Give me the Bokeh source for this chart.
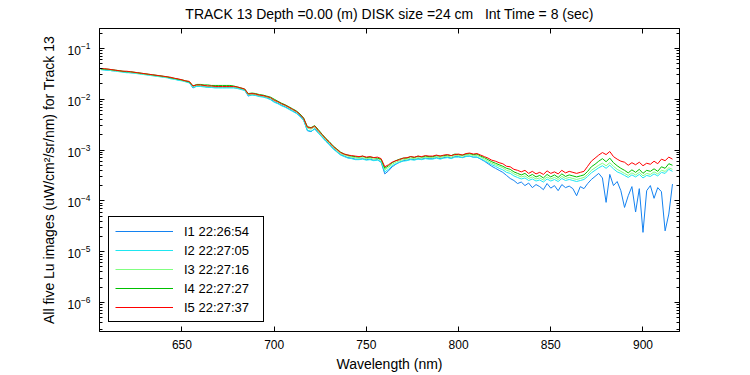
from bokeh.plotting import figure
from bokeh.models import (Range1d, LinearAxis, LogAxis, Legend, LegendItem,
                          FixedTicker, LogTicker, LogTickFormatter, CustomJSTickFormatter)
from bokeh.embed import file_html
from bokeh.resources import INLINE

# ---------------- data (log10 of Lu) ----------------
wavelength_nm = list(range(606, 918, 2))

series_labels = ["I1 22:26:54", "I2 22:27:05", "I3 22:27:16", "I4 22:27:27", "I5 22:27:37"]
series_colors = ["#1482F0", "#1EE6F0", "#80FF80", "#00C000", "#FF0000"]

i1_log10 = [
    -1.41, -1.42, -1.43, -1.44, -1.44, -1.45, -1.46, -1.47, -1.48, -1.48,
    -1.49, -1.50, -1.51, -1.52, -1.53, -1.54, -1.55, -1.56, -1.57, -1.59,
    -1.60, -1.62, -1.63, -1.65, -1.67, -1.78, -1.74, -1.74, -1.75, -1.76,
    -1.76, -1.77, -1.77, -1.77, -1.77, -1.77, -1.77, -1.78, -1.80, -1.82,
    -1.94, -1.91, -1.92, -1.94, -1.95, -1.97, -2.00, -2.05, -2.08, -2.12,
    -2.15, -2.19, -2.23, -2.27, -2.33, -2.41, -2.62, -2.64, -2.58, -2.66,
    -2.74, -2.82, -2.89, -2.97, -3.03, -3.09, -3.12, -3.15, -3.16, -3.18,
    -3.18, -3.17, -3.19, -3.18, -3.20, -3.19, -3.24, -3.47, -3.41, -3.33,
    -3.28, -3.24, -3.21, -3.20, -3.18, -3.19, -3.17, -3.18, -3.16, -3.17,
    -3.17, -3.15, -3.17, -3.15, -3.14, -3.16, -3.13, -3.13, -3.15, -3.12,
    -3.12, -3.14, -3.14, -3.18, -3.22, -3.27, -3.32, -3.36, -3.40, -3.44,
    -3.50, -3.56, -3.60, -3.66, -3.63, -3.70, -3.65, -3.74, -3.68, -3.72,
    -3.78, -3.66, -3.75, -3.70, -3.80, -3.68, -3.74, -3.71, -3.76, -3.90,
    -3.72, -3.76, -3.66, -3.58, -3.52, -3.46, -3.55, -4.03, -3.48, -3.70,
    -3.62, -3.80, -4.13, -3.90, -3.72, -4.22, -3.76, -4.62, -3.80, -3.70,
    -3.95, -3.74, -3.82, -4.59, -4.26, -3.67,
]
i2_log10 = [
    -1.42, -1.43, -1.43, -1.44, -1.45, -1.46, -1.47, -1.48, -1.48, -1.49,
    -1.50, -1.51, -1.52, -1.53, -1.54, -1.55, -1.56, -1.57, -1.58, -1.60,
    -1.61, -1.63, -1.64, -1.66, -1.68, -1.77, -1.75, -1.75, -1.76, -1.77,
    -1.77, -1.78, -1.78, -1.78, -1.78, -1.78, -1.78, -1.79, -1.81, -1.83,
    -1.93, -1.92, -1.93, -1.95, -1.96, -1.98, -2.01, -2.06, -2.09, -2.13,
    -2.16, -2.20, -2.24, -2.28, -2.34, -2.42, -2.61, -2.63, -2.59, -2.67,
    -2.75, -2.83, -2.90, -2.98, -3.04, -3.10, -3.13, -3.16, -3.17, -3.19,
    -3.19, -3.18, -3.20, -3.19, -3.21, -3.20, -3.23, -3.43, -3.38, -3.31,
    -3.27, -3.24, -3.22, -3.21, -3.19, -3.20, -3.18, -3.19, -3.17, -3.18,
    -3.18, -3.16, -3.18, -3.16, -3.15, -3.17, -3.14, -3.14, -3.15, -3.13,
    -3.12, -3.14, -3.14, -3.17, -3.21, -3.25, -3.29, -3.32, -3.36, -3.39,
    -3.44, -3.46, -3.51, -3.54, -3.57, -3.55, -3.60, -3.57, -3.61, -3.59,
    -3.63, -3.57, -3.61, -3.58, -3.62, -3.56, -3.60, -3.58, -3.60, -3.62,
    -3.60, -3.58, -3.52, -3.45, -3.40, -3.35, -3.31, -3.36, -3.30, -3.37,
    -3.43, -3.46, -3.50, -3.54, -3.49, -3.53, -3.48, -3.55, -3.50, -3.52,
    -3.47, -3.51, -3.44, -3.46, -3.38, -3.42,
]
i3_log10 = [
    -1.41, -1.41, -1.42, -1.43, -1.44, -1.45, -1.46, -1.46, -1.47, -1.48,
    -1.49, -1.50, -1.51, -1.52, -1.53, -1.54, -1.55, -1.56, -1.57, -1.58,
    -1.60, -1.61, -1.63, -1.65, -1.66, -1.75, -1.73, -1.73, -1.74, -1.75,
    -1.75, -1.76, -1.76, -1.76, -1.76, -1.76, -1.76, -1.77, -1.79, -1.81,
    -1.91, -1.90, -1.91, -1.93, -1.94, -1.96, -1.98, -2.03, -2.06, -2.10,
    -2.13, -2.17, -2.21, -2.25, -2.31, -2.39, -2.57, -2.59, -2.55, -2.64,
    -2.72, -2.80, -2.87, -2.95, -3.01, -3.07, -3.10, -3.12, -3.14, -3.15,
    -3.16, -3.15, -3.17, -3.16, -3.18, -3.17, -3.20, -3.39, -3.34, -3.28,
    -3.24, -3.21, -3.19, -3.18, -3.16, -3.17, -3.15, -3.16, -3.14, -3.15,
    -3.15, -3.13, -3.15, -3.13, -3.12, -3.14, -3.11, -3.11, -3.12, -3.10,
    -3.09, -3.11, -3.11, -3.14, -3.18, -3.22, -3.26, -3.29, -3.32, -3.35,
    -3.40, -3.42, -3.47, -3.50, -3.53, -3.51, -3.56, -3.53, -3.57, -3.55,
    -3.59, -3.53, -3.57, -3.54, -3.58, -3.52, -3.56, -3.54, -3.56, -3.58,
    -3.56, -3.54, -3.48, -3.40, -3.35, -3.30, -3.26, -3.31, -3.25, -3.32,
    -3.38, -3.42, -3.46, -3.50, -3.45, -3.49, -3.44, -3.51, -3.46, -3.48,
    -3.43, -3.47, -3.40, -3.42, -3.35, -3.38,
]
i4_log10 = [
    -1.40, -1.41, -1.41, -1.42, -1.43, -1.44, -1.45, -1.46, -1.46, -1.47,
    -1.48, -1.49, -1.50, -1.51, -1.52, -1.53, -1.54, -1.55, -1.56, -1.58,
    -1.59, -1.61, -1.62, -1.64, -1.66, -1.74, -1.71, -1.71, -1.72, -1.72,
    -1.73, -1.73, -1.73, -1.73, -1.73, -1.73, -1.74, -1.76, -1.78, -1.80,
    -1.89, -1.88, -1.89, -1.91, -1.92, -1.94, -1.96, -2.00, -2.04, -2.08,
    -2.11, -2.15, -2.19, -2.23, -2.29, -2.37, -2.54, -2.56, -2.52, -2.60,
    -2.69, -2.77, -2.84, -2.92, -2.98, -3.04, -3.08, -3.10, -3.12, -3.13,
    -3.14, -3.12, -3.15, -3.14, -3.15, -3.16, -3.18, -3.36, -3.31, -3.25,
    -3.21, -3.18, -3.16, -3.16, -3.13, -3.15, -3.12, -3.14, -3.12, -3.13,
    -3.13, -3.11, -3.12, -3.11, -3.10, -3.11, -3.08, -3.09, -3.10, -3.08,
    -3.07, -3.09, -3.08, -3.12, -3.15, -3.19, -3.23, -3.26, -3.29, -3.32,
    -3.36, -3.38, -3.43, -3.46, -3.49, -3.46, -3.52, -3.48, -3.53, -3.50,
    -3.55, -3.48, -3.53, -3.49, -3.54, -3.47, -3.52, -3.49, -3.51, -3.53,
    -3.51, -3.49, -3.42, -3.33, -3.28, -3.22, -3.17, -3.23, -3.16, -3.25,
    -3.31, -3.36, -3.40, -3.45, -3.39, -3.44, -3.38, -3.46, -3.40, -3.42,
    -3.37, -3.42, -3.33, -3.36, -3.27, -3.30,
]
i5_log10 = [
    -1.40, -1.40, -1.41, -1.42, -1.43, -1.44, -1.45, -1.45, -1.46, -1.47,
    -1.48, -1.49, -1.50, -1.51, -1.52, -1.53, -1.54, -1.55, -1.56, -1.57,
    -1.59, -1.60, -1.62, -1.64, -1.65, -1.74, -1.72, -1.72, -1.73, -1.74,
    -1.74, -1.75, -1.75, -1.75, -1.75, -1.75, -1.75, -1.76, -1.78, -1.80,
    -1.90, -1.89, -1.90, -1.92, -1.93, -1.95, -1.97, -2.02, -2.05, -2.09,
    -2.12, -2.16, -2.20, -2.24, -2.30, -2.38, -2.55, -2.57, -2.53, -2.62,
    -2.70, -2.78, -2.85, -2.93, -2.99, -3.05, -3.08, -3.10, -3.11, -3.12,
    -3.13, -3.12, -3.14, -3.13, -3.15, -3.14, -3.17, -3.33, -3.29, -3.24,
    -3.21, -3.19, -3.16, -3.15, -3.13, -3.14, -3.12, -3.13, -3.11, -3.12,
    -3.12, -3.10, -3.12, -3.10, -3.09, -3.11, -3.09, -3.08, -3.10, -3.07,
    -3.06, -3.08, -3.07, -3.10, -3.13, -3.16, -3.20, -3.22, -3.25, -3.27,
    -3.32, -3.33, -3.38, -3.40, -3.43, -3.40, -3.46, -3.42, -3.47, -3.44,
    -3.48, -3.41, -3.46, -3.43, -3.47, -3.40, -3.45, -3.42, -3.44, -3.46,
    -3.44, -3.42, -3.32, -3.22, -3.16, -3.10, -3.05, -3.09, -3.03, -3.13,
    -3.18, -3.22, -3.24, -3.30, -3.25, -3.29, -3.24, -3.31, -3.26, -3.28,
    -3.22, -3.27, -3.18, -3.21, -3.14, -3.18,
]
all_series_log10 = [i1_log10, i2_log10, i3_log10, i4_log10, i5_log10]

x_tick_values = [650, 700, 750, 800, 850, 900]

title_text = "TRACK 13 Depth =0.00 (m) DISK size =24 cm\u00a0\u00a0\u00a0Int Time = 8 (sec)"
x_label = "Wavelength (nm)"
y_label = "All five Lu images (uW/cm\u00b2/sr/nm) for Track 13"

# ---------------- figure ----------------
FONT = "Liberation Sans"
p = figure(width=750, height=375, output_backend="svg", toolbar_location=None,
           x_range=Range1d(605.3, 919.8), y_range=Range1d(10 ** -6.57, 10 ** -0.61),
           y_axis_type="log",
           min_border_left=99, min_border_right=71, min_border_top=28, min_border_bottom=44)
p.background_fill_color = "white"
p.border_fill_color = "white"
p.outline_line_color = "black"
p.outline_line_alpha = 1.0
p.xgrid.visible = False
p.ygrid.visible = False

p.title.text = title_text
p.title.align = "center"
p.title.vertical_align = "top"
p.title.text_font = FONT
p.title.text_font_size = "14px"
p.title.text_font_style = "normal"
p.title.text_color = "black"
p.title.standoff = 10

blank = CustomJSTickFormatter(code="return '';")

# bottom axis
xa = p.xaxis[0]
xa.ticker = FixedTicker(ticks=x_tick_values)
xa.major_tick_in = 5
xa.major_tick_out = 0
xa.minor_tick_in = 0
xa.minor_tick_out = 0
xa.major_label_text_font = FONT
xa.major_label_text_font_size = "12px"
xa.major_label_text_color = "black"
xa.major_label_standoff = 8
xa.axis_label = x_label
xa.axis_label_text_font = FONT
xa.axis_label_text_font_size = "14px"
xa.axis_label_text_font_style = "normal"
xa.axis_label_text_color = "black"
xa.axis_label_standoff = 4
xa.axis_line_color = "black"
xa.major_tick_line_color = "black"

# left axis
ya = p.yaxis[0]
ya.ticker = LogTicker(num_minor_ticks=10)
ya.formatter = LogTickFormatter()
ya.major_tick_in = 5
ya.major_tick_out = 0
ya.minor_tick_in = 3
ya.minor_tick_out = 0
ya.major_label_text_font = FONT
ya.major_label_text_font_size = "12px"
ya.major_label_text_color = "black"
ya.major_label_standoff = 9
ya.axis_label = y_label
ya.axis_label_text_font = FONT
ya.axis_label_text_font_size = "14px"
ya.axis_label_text_font_style = "normal"
ya.axis_label_text_color = "black"
ya.axis_label_standoff = 8
ya.major_tick_line_color = "black"
ya.minor_tick_line_color = "black"

# top and right box axes
top = LinearAxis(ticker=FixedTicker(ticks=x_tick_values), formatter=blank,
                 major_tick_in=5, major_tick_out=0, minor_tick_in=0, minor_tick_out=0,
                 major_label_text_font_size="1px", major_label_standoff=0)
p.add_layout(top, "above")
right = LogAxis(ticker=LogTicker(num_minor_ticks=10), formatter=blank,
                major_tick_in=5, major_tick_out=0, minor_tick_in=3, minor_tick_out=0,
                major_label_text_font_size="1px", major_label_standoff=0)
p.add_layout(right, "right")

# lines
items = []
for lab, col, ys in zip(series_labels, series_colors, all_series_log10):
    r = p.line(wavelength_nm, [10.0 ** v for v in ys], line_color=col, line_width=1)
    items.append(LegendItem(label=lab, renderers=[r]))

legend = Legend(items=items, location=(9, 9), margin=0, padding=6, spacing=3,
                glyph_width=58, glyph_height=16, label_height=16, label_standoff=11,
                label_width=73,
                label_text_font=FONT, label_text_font_size="13px", label_text_color="black",
                border_line_color="black", border_line_width=1, border_line_alpha=1,
                background_fill_color="white", background_fill_alpha=1)
p.add_layout(legend)

open("out.html", "w").write(file_html(p, INLINE))
